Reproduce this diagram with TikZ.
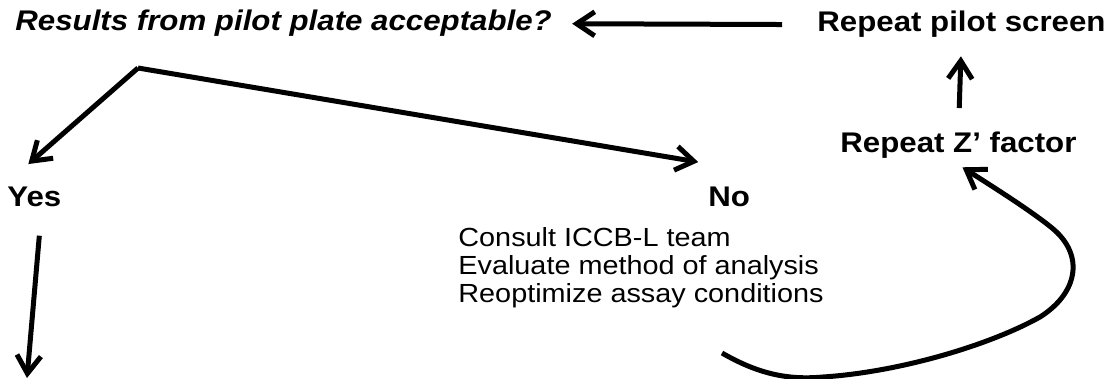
\documentclass[tikz,border=0pt]{standalone}
\usepackage{fontspec}
\setmainfont{Liberation Sans}[FakeStretch=1.1]
\usetikzlibrary{arrows.meta}
\usetikzlibrary{positioning}

\newcommand{\headfont}{\fontsize{14.2}{17}\selectfont\bfseries}
\newcommand{\listfont}{\fontsize{13.1}{14}\selectfont}

\begin{document}
\begin{tikzpicture}[x=0.5pt,y=-0.5pt,
    flow/.style={->,line width=2.5pt,>={Straight Barb[length=9pt,width=12pt]}}]
  \useasboundingbox (0,0) rectangle (1109,379);
      \begin{scope}[inner sep=0pt,anchor=base west]
          \tikzstyle{every node}=[font=\headfont]
          \node (pilot)   at (15,31)   {\itshape Results from pilot plate acceptable?};
          \node (screen)  at (817,32)  {Repeat pilot screen};
          \node (zfactor) at (840,153) {Repeat Z’ factor};
          \node (yes)     at (7,207)   {Yes};
          \node (no)      at (708,207) {No};
      \end{scope}
      \node[inner sep=0pt,anchor=north west,align=left,font=\listfont] (steps) at (458,227)
          {Consult ICCB-L team\\Evaluate method of analysis\\Reoptimize assay conditions};

      \coordinate (split)  at (138,68);
      \coordinate (onward) at (27,378);
      \coordinate (retry)  at (722,353);

      \draw[flow] (split) -- ([shift={(-6,-23)}]yes.north);
      \draw[flow] (split) -- ([shift={(-31,-25)}]no.north);
      \draw[flow] ([shift={(5,28)}]yes.south) -- (onward);
      \draw[flow,shorten <=17.5pt,shorten >=10pt] (screen.west) -- (pilot.east);
      \draw[flow,shorten <=12pt,shorten >=9pt] (zfactor.north) -- (screen.south);

      % back to the Z' factor
      \draw[flow] (retry) .. controls (760,375) and (790,380) .. (823,377)
          .. controls (900,372) and (990,345) .. (1040,317)
          .. controls (1078,293) and (1085,255) .. (1052,228)
          .. controls (1030,210) and (990,185) .. ([shift={(4,8)}]zfactor.south);
\end{tikzpicture}
\end{document}
